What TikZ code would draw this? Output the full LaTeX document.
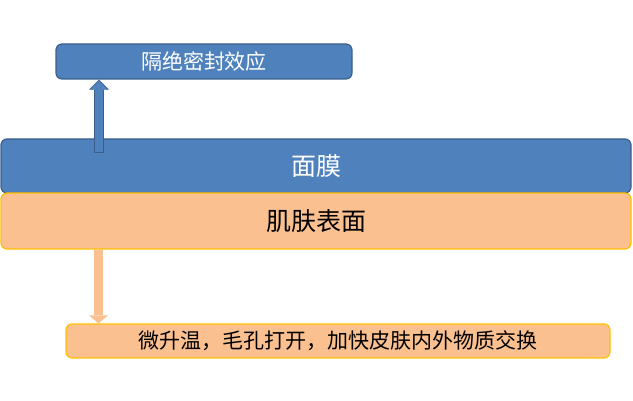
\documentclass[tikz,border=0pt]{standalone}
\usepackage{fontspec}
\newfontfamily\cjk{Noto Sans CJK SC}
\usetikzlibrary{arrows.meta,positioning}
\definecolor{bluefill}{HTML}{4F81BD}
\definecolor{blueline}{HTML}{3A5F8C}
\definecolor{skinfill}{HTML}{FAC090}
\definecolor{skinline}{HTML}{FFC000}

\begin{document}
\begin{tikzpicture}[x=1pt,y=-1pt,
  bluebox/.style={draw=blueline,fill=bluefill,line width=1.2pt,rounded corners=6pt,text=white,inner sep=0pt},
  skinbox/.style={draw=skinline,fill=skinfill,line width=1.2pt,rounded corners=6pt,text=black,inner sep=0pt},
  small/.style={font=\cjk\fontsize{21}{25}\selectfont},
  big/.style={font=\cjk\fontsize{25}{30}\selectfont}]
  \useasboundingbox (0,0) rectangle (633,401);

  \node[bluebox,small,minimum width=296pt,minimum height=35pt] (seal) at (204,61.5) {隔绝密封效应};
  \node[bluebox,big,minimum width=630pt,minimum height=54pt] (mask) at (316,166) {面膜};
  \node[skinbox,big,minimum width=630pt,minimum height=56pt] (skin) at (316,221) {肌肤表面};
  \node[skinbox,small,minimum width=544pt,minimum height=34pt] (effect) at (338,341) {微升温，毛孔打开，加快皮肤内外物质交换};

  % freccia verso l'alto
  \coordinate (upfoot) at (99,153);
  \draw[blueline,line width=10pt,-{Triangle[width=20pt,length=10pt,line width=0pt]}] (upfoot) -- (upfoot |- seal.south);
  \draw[bluefill,line width=7.6pt,-{Triangle[width=17pt,length=8.4pt,line width=0pt]}] ([yshift=1.2pt]upfoot) -- ([yshift=-1.3pt]upfoot |- seal.south);

  % freccia verso il basso
  \coordinate (downtop) at (98.5,0);
  \draw[skinfill,line width=9pt,-{Triangle[width=19pt,length=8pt,line width=0pt]}] (downtop |- skin.south) -- (downtop |- effect.north);
\end{tikzpicture}
\end{document}
